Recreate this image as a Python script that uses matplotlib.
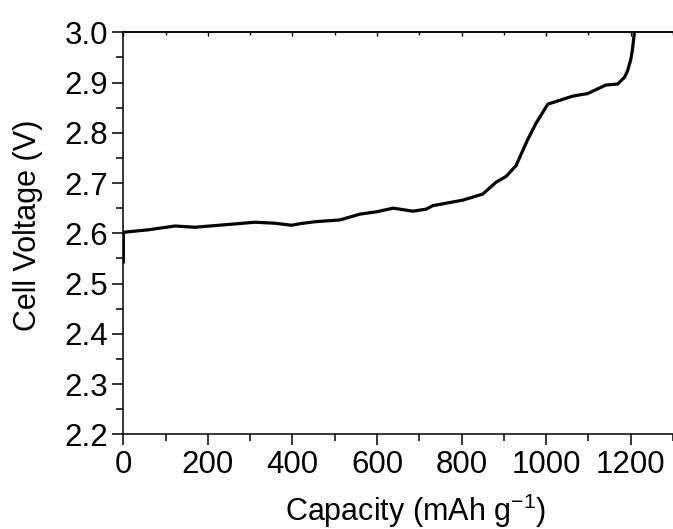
import matplotlib
matplotlib.use("Agg")
import matplotlib.pyplot as plt
from matplotlib.ticker import MultipleLocator, NullFormatter

plt.rcParams['font.family'] = ['Liberation Sans', 'DejaVu Sans']
plt.rcParams['mathtext.fontset'] = 'custom'
plt.rcParams['mathtext.rm'] = 'Liberation Sans'
plt.rcParams['mathtext.it'] = 'Liberation Sans'
plt.rcParams['mathtext.default'] = 'regular'

capacity = [0, 0, 60, 122, 169, 240, 311, 358, 398, 417, 453, 512, 559, 600, 638, 685,
            716, 732, 771, 803, 850, 866, 882, 905, 929, 956, 976, 1004, 1030, 1063,
            1098, 1141, 1169, 1185, 1192, 1200, 1204, 1208, 1210]
voltage = [2.543, 2.602, 2.607, 2.6145, 2.612, 2.617, 2.622, 2.620, 2.616, 2.619, 2.623,
           2.6265, 2.638, 2.643, 2.650, 2.644, 2.648, 2.655, 2.661, 2.666, 2.678, 2.690,
           2.702, 2.713, 2.735, 2.786, 2.819, 2.857, 2.864, 2.873, 2.878, 2.895, 2.897,
           2.91, 2.922, 2.945, 2.965, 2.995, 3.01]

fig = plt.figure(figsize=(6.73, 5.29), dpi=100)
ax = fig.add_axes([0.1833, 0.179, 1.0 - 0.1833, 0.939 - 0.179])
ax.plot(capacity, voltage, color='black', lw=2.3, solid_joinstyle='round')

ax.set_xlim(0, 1300)
ax.set_ylim(2.2, 3.0)
ax.xaxis.set_major_locator(MultipleLocator(200))
ax.xaxis.set_minor_locator(MultipleLocator(100))
ax.yaxis.set_major_locator(MultipleLocator(0.1))
ax.yaxis.set_minor_locator(MultipleLocator(0.05))
ax.yaxis.set_major_formatter(plt.FormatStrFormatter('%.1f'))

ax.spines['right'].set_visible(False)
for s in ['left', 'bottom', 'top']:
    ax.spines[s].set_linewidth(1.1)

ax.tick_params(axis='both', which='major', direction='out', length=8, width=1.1,
               labelsize=22.5, pad=3)
ax.tick_params(axis='both', which='minor', direction='out', length=5, width=1.1)

top = ax.secondary_xaxis('top')
top.xaxis.set_major_locator(MultipleLocator(200))
top.xaxis.set_minor_locator(MultipleLocator(100))
top.xaxis.set_major_formatter(NullFormatter())
top.tick_params(which='major', direction='in', length=3, width=1.0)
top.tick_params(which='minor', direction='in', length=2, width=1.0)
top.spines['top'].set_linewidth(1.1)

ax.set_xlabel('Capacity (mAh g$^{-1}$)', fontsize=22)
ax.set_ylabel('Cell Voltage (V)', fontsize=22)
ax.xaxis.set_label_coords(0.532, -0.142)
ax.yaxis.set_label_coords(-0.146, 0.52)

fig.savefig('out.png', dpi=100)
